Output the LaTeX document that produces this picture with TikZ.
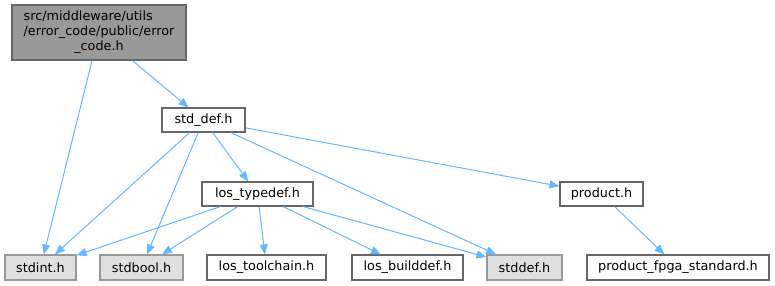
\documentclass[tikz,border=0pt]{standalone}
\usepackage{fontspec}
\setmainfont{DejaVu Sans}
\usepackage{xcolor}
\usepackage{tikz}
\usetikzlibrary{arrows.meta}
\definecolor{edgeblue}{HTML}{63B8FF}
\definecolor{boxline}{HTML}{666666}
\definecolor{sysline}{HTML}{999999}
\definecolor{sysfill}{HTML}{E0E0E0}
\definecolor{rootfill}{HTML}{999999}

\begin{document}
\begin{tikzpicture}[x=1pt,y=-1pt,every node/.style={font=\fontsize{12.8}{15}\selectfont,inner sep=0pt,align=center}, hb/.style={draw=boxline,fill=white,line width=1.1pt,minimum height=24pt}, sb/.style={draw=sysline,fill=sysfill,line width=1.1pt,minimum height=25pt}, rb/.style={draw=boxline,fill=rootfill,line width=1.1pt,minimum width=174pt,minimum height=55pt}, dep/.style={draw=edgeblue,line width=1pt,-{Triangle[length=10pt,width=8pt]}}]
\useasboundingbox (0,0) rectangle (775,285);
\node[rb] (root) at (99,32.5) {\begin{tabular}{@{}l@{}}src/middleware/utils\\/error\_code/public/error\\\multicolumn{1}{@{}c@{}}{\_code.h}\end{tabular}};
\node[hb,minimum width=83pt]  (stddef_h) at (203.5,120) {std\_def.h};
\node[hb,minimum width=111pt] (typedef) at (257.5,194) {los\_typedef.h};
\node[hb,minimum width=83pt]  (product) at (601.5,194) {product.h};
\node[sb,minimum width=71pt]  (stdint) at (40.5,267.5) {stdint.h};
\node[sb,minimum width=83pt]  (stdbool) at (141.5,267.5) {stdbool.h};
\node[hb,minimum height=25pt,minimum width=119pt] (toolchain) at (266.5,267.5) {los\_toolchain.h};
\node[hb,minimum height=25pt,minimum width=111pt] (builddef) at (407.5,267.5) {los\_builddef.h};
\node[sb,minimum width=75pt]  (stddef) at (524.5,267.5) {stddef.h};
\node[hb,minimum height=25pt,minimum width=182pt] (fpga) at (678,267.5) {product\_fpga\_standard.h};
\draw[dep] (root) -- (stdint);
\draw[dep] (root) -- (stddef_h);
\draw[dep] (stddef_h) -- (stdint);
\draw[dep] (stddef_h) -- (stdbool);
\draw[dep] (stddef_h) -- (typedef);
\draw[dep] (stddef_h) -- (stddef);
\draw[dep] (stddef_h) -- (product);
\draw[dep] (typedef) -- (stdint);
\draw[dep] (typedef) -- (stdbool);
\draw[dep] (typedef) -- (toolchain);
\draw[dep] (typedef) -- (builddef);
\draw[dep] (typedef) -- (stddef);
\draw[dep] (product) -- (fpga);
\end{tikzpicture}
\end{document}
